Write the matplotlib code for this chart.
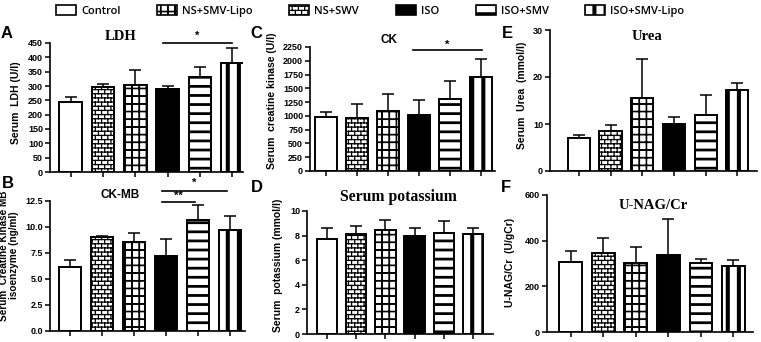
import warnings
warnings.filterwarnings("ignore")
import numpy as np
import matplotlib
matplotlib.use("Agg")
import matplotlib.pyplot as plt
from matplotlib import hatch as mhatch
from matplotlib.path import Path
from matplotlib.patches import Rectangle
from matplotlib.ticker import FormatStrFormatter

# ---------------- data ----------------
groups = ["Control", "NS+SWV", "NS+SMV-Lipo", "ISO", "ISO+SMV", "ISO+SMV-Lipo"]
legend_order = ["Control", "NS+SMV-Lipo", "NS+SWV", "ISO", "ISO+SMV", "ISO+SMV-Lipo"]

ldh_mean = [243, 298, 305, 289, 333, 380]
ldh_err = [17, 9, 50, 10, 34, 52]
ck_mean = [980, 968, 1083, 1010, 1300, 1712]
ck_err = [85, 248, 314, 280, 340, 315]
urea_mean = [7.1, 8.5, 15.5, 10.0, 11.9, 17.3]
urea_err = [0.6, 1.2, 8.4, 1.5, 4.2, 1.4]
ckmb_mean = [6.17, 9.05, 8.57, 7.19, 10.65, 9.69]
ckmb_err = [0.70, 0.13, 0.89, 1.63, 1.47, 1.34]
k_mean = [7.76, 8.09, 8.44, 7.95, 8.22, 8.09]
k_err = [0.87, 0.67, 0.81, 0.68, 0.94, 0.54]
nag_mean = [307, 348, 304, 338, 301, 288]
nag_err = [48, 63, 69, 159, 19, 29]

# ---------------- custom hatch patterns ----------------
plt.rcParams['hatch.linewidth'] = 0.9


class CustomHatch(mhatch.HatchPatternBase):
    char = None

    def __init__(self, hatch, density):
        if hatch is not None and self.char in hatch:
            self.segs, self.rects = self.build()
        else:
            self.segs, self.rects = [], []
        self.num_vertices = 2 * len(self.segs) + 5 * len(self.rects)

    def build(self):
        return [], []

    def set_vertices_and_codes(self, v, c):
        i = 0
        for (x0, y0, x1, y1) in self.segs:
            v[i] = (x0, y0)
            v[i + 1] = (x1, y1)
            c[i] = Path.MOVETO
            c[i + 1] = Path.LINETO
            i += 2
        for (x0, y0, x1, y1) in self.rects:
            v[i:i + 5] = [(x0, y0), (x1, y0), (x1, y1), (x0, y1), (x0, y0)]
            c[i] = Path.MOVETO
            c[i + 1:i + 4] = Path.LINETO
            c[i + 4] = Path.CLOSEPOLY
            i += 5


class BrickHatch(CustomHatch):
    char = 'B'

    def build(self):
        R, C = 24, 16
        h = 1.0 / R
        segs = []
        for r in range(R):
            y = (r + 0.5) * h
            segs.append((0, y, 1, y))
            for k in range(C):
                x = (k + 0.25 + 0.5 * (r % 2)) / C
                y0, y1 = y, y + h
                segs.append((x, y0, x, y1))
                if y1 > 1:
                    segs.append((x, y0 - 1, x, y1 - 1))
        return segs, []


class GridHatch(CustomHatch):
    char = 'G'

    def build(self):
        NV, NH, t = 14, 13, 0.004
        rects = []
        for k in range(NV):
            x = (k + 0.5) / NV
            rects.append((x - t / 2, 0, x + t / 2, 1))
        for k in range(NH):
            y = (k + 0.5) / NH
            rects.append((0, y - t / 2, 1, y + t / 2))
        return [], rects


class HStripeHatch(CustomHatch):
    char = 'H'

    def build(self):
        N, t = 11, 0.015
        rects = []
        for k in range(N):
            y = (k + 0.5) / N
            rects.append((0, y - t / 2, 1, y + t / 2))
        return [], rects


class VStripeHatch(CustomHatch):
    char = 'V'

    def build(self):
        N, t = 9, 0.028
        rects = []
        for k in range(N):
            x = (k + 0.5) / N
            rects.append((x - t / 2, 0, x + t / 2, 1))
        return [], rects


mhatch._hatch_types.extend([BrickHatch, GridHatch, HStripeHatch, VStripeHatch])

faces = {"Control": "white", "NS+SWV": "white", "NS+SMV-Lipo": "white",
         "ISO": "black", "ISO+SMV": "white", "ISO+SMV-Lipo": "white"}
hatches = {"Control": None, "NS+SWV": "B", "NS+SMV-Lipo": "G",
           "ISO": None, "ISO+SMV": "H", "ISO+SMV-Lipo": "V"}

# ---------------- figure ----------------
W, H = 761, 342
fig = plt.figure(figsize=(W / 100, H / 100), dpi=100)

SANS = "Liberation Sans"
SERIF = "Liberation Serif"


def px_axes(left, right, top, bottom):
    return fig.add_axes([left / W, 1 - bottom / H, (right - left) / W, (bottom - top) / H])


def draw_panel(ax, means, errs, ymax, ystep, xlim, ylabel, lab_xy, fmt=None, lab_size=7.5):
    x = np.arange(len(groups))
    bars = ax.bar(x, means, width=0.7, color=[faces[g] for g in groups],
                  edgecolor='black', linewidth=1.4, zorder=2)
    for b, g in zip(bars, groups):
        if hatches[g]:
            b.set_hatch(hatches[g])
    ax.errorbar(x, means, yerr=[np.zeros(len(errs)), errs], fmt='none',
                ecolor='black', elinewidth=1.1, capsize=4, capthick=1.1, zorder=1)
    ax.set_xlim(*xlim)
    ax.set_ylim(0, ymax)
    ax.set_yticks(np.arange(0, ymax + ystep / 2, ystep))
    if fmt:
        ax.yaxis.set_major_formatter(FormatStrFormatter(fmt))
    ax.set_xticks(x)
    ax.set_xticklabels([])
    for s in ['top', 'right']:
        ax.spines[s].set_visible(False)
    for s in ['left', 'bottom']:
        ax.spines[s].set_linewidth(1.2)
    ax.tick_params(direction='out', length=3.5, width=1.1, pad=1.5)
    for lbl in ax.get_yticklabels():
        lbl.set_fontfamily(SANS)
        lbl.set_fontweight('bold')
        lbl.set_fontsize(6.5)
    ax.set_ylabel(ylabel, fontfamily=SANS, fontweight='bold', fontsize=lab_size,
                  linespacing=1.0)
    ax.yaxis.set_label_coords(*lab_xy)


def ftext(x, y, s, **kw):
    fig.text(x / W, 1 - y / H, s, ha='center', va='center', **kw)


def sig(ax, x0, x1, y, star, dy):
    ax.plot([x0, x1], [y, y], color='black', lw=1.2, clip_on=False)
    ax.text((x0 + x1) / 2, y + dy, star, ha='center', va='center',
            fontfamily=SANS, fontweight='bold', fontsize=8, clip_on=False)


# A: LDH
axA = px_axes(50, 243, 43, 172)
draw_panel(axA, ldh_mean, ldh_err, 450, 50, (-0.64, 5.33), "Serum  LDH (U/l)", (-0.15, 0.535))
sig(axA, 2.85, 5.0, 450, "*", 25)

# C: CK
axC = px_axes(310, 495, 47, 171)
draw_panel(axC, ck_mean, ck_err, 2250, 250, (-0.52, 5.45), "Serum  creatine kinase (U/l)", (-0.18, 0.57))
sig(axC, 2.8, 5.03, 2200, "*", 95)

# E: Urea
axE = px_axes(550, 757, 30, 171)
draw_panel(axE, urea_mean, urea_err, 30, 10, (-0.91, 5.62), "Serum  Urea  (mmol/l)", (-0.111, 0.54))

# B: CK-MB
axB = px_axes(50, 245, 201, 331)
draw_panel(axB, ckmb_mean, ckmb_err, 12.5, 2.5, (-0.63, 5.47),
           "Serum  Creatine Kinase MB\nisoenzyme (ng/ml)", (-0.16, 0.58), fmt='%.1f',
           lab_size=7.2)
sig(axB, 2.87, 4.9, 13.46, "*", 0.75)
sig(axB, 2.87, 3.9, 12.43, "**", 0.6)

# D: Serum potassium
axD = px_axes(307, 493, 211, 334)
draw_panel(axD, k_mean, k_err, 10, 2, (-0.68, 5.68), "Serum  potassium (mmol/l)", (-0.129, 0.56))

# F: U-NAG/Cr
axF = px_axes(547, 753, 195, 332)
draw_panel(axF, nag_mean, nag_err, 600, 200, (-0.73, 5.6), "U-NAG/Cr  (U/gCr)", (-0.155, 0.51))

# titles
ftext(121, 37, "LDH", fontfamily=SERIF, fontweight='bold', fontsize=10.5)
ftext(389, 40, "CK", fontfamily=SANS, fontweight='bold', fontsize=8.5)
ftext(647, 37, "Urea", fontfamily=SERIF, fontweight='bold', fontsize=10.5)
ftext(120, 195, "CK-MB", fontfamily=SANS, fontweight='bold', fontsize=8.5)
ftext(398, 197, "Serum potassium", fontfamily=SERIF, fontweight='bold', fontsize=11.3)
ftext(653, 205, "U-NAG/Cr", fontfamily=SERIF, fontweight='bold', fontsize=10.5)

# panel letters
for s, x, y in [("A", 7, 33), ("B", 8, 184), ("C", 256, 33),
                ("D", 257, 187), ("E", 507, 34), ("F", 506, 187)]:
    ftext(x, y, s, fontfamily=SANS, fontweight='bold', fontsize=12)

# legend
handles = [Rectangle((0, 0), 1, 1, facecolor=faces[g], edgecolor='black',
                     linewidth=1.2, hatch=hatches[g]) for g in legend_order]
fig.legend(handles, legend_order, loc='upper left', bbox_to_anchor=(56 / W, 1 - 5 / H),
           ncol=6, frameon=False, handlelength=1.8, handleheight=1.0,
           handletextpad=0.45, columnspacing=3.3, borderpad=0, borderaxespad=0,
           prop={'family': 'Open Sans', 'weight': 'semibold', 'size': 8})

fig.savefig("out.png", dpi=100)
